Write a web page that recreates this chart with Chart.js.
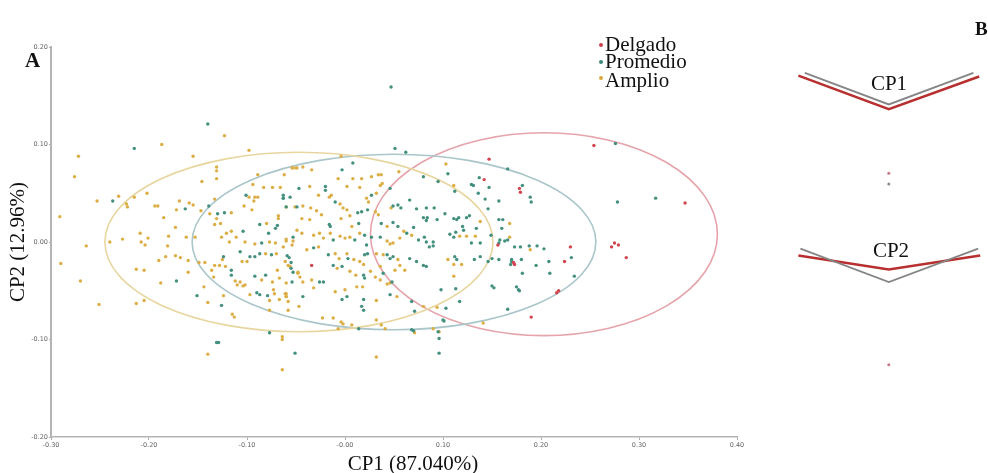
<!DOCTYPE html>
<html>
<head>
<meta charset="utf-8">
<title>CP1 / CP2</title>
<script src="https://cdn.jsdelivr.net/npm/chart.js@4.4.1/dist/chart.umd.min.js"></script>
<style>
  html, body { margin: 0; padding: 0; background: #fff; }
  #wrap { position: relative; width: 988px; height: 473px; overflow: hidden; }
  .panel { position: absolute; top: 0; height: 473px; }
  .serif { position: absolute; font-family: 'Liberation Serif', 'Times New Roman', serif; color: #111; line-height: 1; white-space: nowrap; }
  .tag { font-weight: bold; }
  .dot { position: absolute; width: 4px; height: 4px; border-radius: 50%; }
</style>
</head>
<body>
<div id="wrap">
  <div class="panel" style="left:0;width:780px"><canvas id="pca"></canvas></div>
  <div class="panel" style="left:780px;width:208px"><canvas id="loadings"></canvas></div>

  <div class="serif tag" style="left:25px;top:50px;font-size:21px">A</div>
  <div class="serif tag" style="left:975px;top:19px;font-size:19px">B</div>

  <div class="dot" style="left:599px;top:43px;background:#cf3f4b"></div>
  <div class="serif" style="left:605px;top:34px;font-size:21px">Delgado</div>
  <div class="dot" style="left:599px;top:60px;background:#3b8a7c"></div>
  <div class="serif" style="left:605px;top:51px;font-size:21px">Promedio</div>
  <div class="dot" style="left:599px;top:76px;background:#d9a93a"></div>
  <div class="serif" style="left:605px;top:70px;font-size:21px">Amplio</div>

  <div class="serif" style="left:413px;top:463px;font-size:21px;transform:translate(-50%,-50%)">CP1 (87.040%)</div>

  <div class="serif" style="left:889px;top:83px;font-size:21px;transform:translate(-50%,-50%)">CP1</div>
  <div class="serif" style="left:891px;top:250px;font-size:21px;transform:translate(-50%,-50%)">CP2</div>
</div>

<script>
// ── Axis ticks ───────────────────────────────────────
const xTickValues = [-0.3, -0.2, -0.1, 0, 0.1, 0.2, 0.3, 0.4]
const xTickLabels = ['-0.30', '-0.20', '-0.10', '-0.00', '0.10', '0.20', '0.30', '0.40']
const yTickValues = [-0.2, -0.1, 0, 0.1, 0.2]
const yTickLabels = ['-0.20', '-0.10', '0.00', '0.10', '0.20']

// ── Groups (scores on CP1, CP2) ──────────────────────
const groupNames = ['Delgado', 'Promedio', 'Amplio']

const delgadoPts = [
  [0.147,0.085],[0.142,0.064],[0.178,0.055],[0.179,0.051],[0.156,-0.003],[0.172,-0.021],
  [0.173,-0.023],[0.190,-0.077],[0.254,0.099],[0.347,0.040],[0.230,-0.005],[0.272,-0.005],
  [0.275,-0.001],[0.279,-0.003],[0.287,-0.016],[0.224,-0.020],[0.218,-0.050],[0.216,-0.052],
  [-0.034,-0.024],
]

const promedioPts = [
  [-0.140,0.121],[-0.215,0.096],[-0.237,0.042],[-0.163,0.034],[-0.139,0.037],[-0.130,0.029],
  [-0.123,0.030],[-0.172,-0.040],[-0.151,-0.055],[-0.126,-0.065],[-0.131,-0.103],[-0.129,-0.103],
  [-0.077,-0.093],[-0.051,-0.114],[-0.101,0.048],[-0.087,0.018],[-0.078,0.009],[-0.071,0.014],
  [-0.069,0.017],[-0.060,0.036],[-0.049,0.036],[-0.063,0.045],[-0.056,0.046],[-0.107,-0.010],
  [-0.097,-0.015],[-0.092,-0.015],[-0.087,-0.012],[-0.075,-0.013],[-0.059,-0.014],[-0.057,-0.016],
  [-0.055,-0.021],[-0.055,-0.027],[-0.053,-0.031],[-0.092,-0.035],[-0.081,-0.034],[-0.090,-0.052],
  [-0.087,-0.054],[-0.079,-0.055],[-0.085,-0.001],[-0.104,0.011],[-0.124,-0.015],[-0.116,-0.029],
  [-0.116,-0.034],
  [0.047,0.159],[0.051,0.096],[0.062,0.092],[0.166,0.075],[0.189,0.046],[0.190,0.041],
  [0.137,0.066],[0.129,0.059],[0.131,0.058],[0.136,0.050],[0.147,0.056],[0.105,0.070],
  [0.095,0.062],[0.080,0.067],[0.112,0.052],[0.066,0.043],[0.054,0.038],[0.049,0.037],
  [0.057,0.035],[0.073,0.034],[0.083,0.035],[0.091,0.035],[0.080,0.025],[0.084,0.025],
  [0.083,0.022],[0.094,0.023],[0.102,0.029],[0.111,0.024],[0.114,0.023],[0.116,0.025],
  [0.124,0.025],[0.127,0.027],[0.134,0.014],[0.120,0.016],[0.121,0.012],[0.107,0.008],
  [0.111,0.005],[0.113,0.010],[0.129,-0.001],[0.138,-0.001],[0.149,0.007],[0.158,0.002],
  [0.166,0.002],[0.179,-0.005],[0.188,-0.004],[0.196,-0.004],[0.170,-0.018],[0.180,-0.018],
  [0.195,-0.024],[0.138,-0.015],[0.146,-0.020],[0.132,-0.018],[0.112,-0.015],[0.114,-0.018],
  [0.098,-0.049],[0.113,-0.048],[0.150,-0.045],[0.152,-0.047],[0.175,-0.046],[0.177,-0.049],
  [0.166,-0.069],[0.117,-0.061],[0.103,-0.068],[0.100,-0.080],[0.095,-0.092],[0.096,-0.099],
  [0.096,-0.114],[0.068,-0.061],[0.071,-0.071],[0.070,-0.091],[0.068,-0.090],[0.101,-0.081],
  [-0.063,0.048],[-0.063,0.045],[-0.003,0.074],[0.008,0.081],[0.046,0.055],[-0.047,0.055],
  [-0.020,0.057],[-0.020,0.053],[0.027,0.048],[-0.010,0.041],[0.013,0.030],[0.017,0.031],
  [0.023,0.033],[-0.016,0.018],[-0.015,0.016],[0.014,0.019],[0.037,0.019],[0.049,0.020],
  [0.054,0.016],[0.063,0.009],[0.070,0.015],[0.075,0.002],[0.083,0.000],[0.090,0.000],
  [0.081,0.005],[0.086,-0.005],[0.090,-0.004],[0.027,0.005],[0.036,0.005],[0.020,0.007],
  [0.010,0.002],[0.022,-0.003],[-0.012,0.002],[-0.053,0.005],[-0.032,-0.006],[-0.017,-0.013],
  [0.003,-0.017],[0.020,-0.013],[0.023,-0.012],[0.043,-0.013],[0.046,-0.017],[0.049,-0.015],
  [0.066,-0.017],[0.073,-0.020],[0.080,-0.024],[0.083,-0.025],[0.039,-0.032],[0.048,-0.041],
  [0.019,-0.034],[0.020,-0.037],[-0.012,-0.024],[-0.003,-0.025],[-0.026,-0.041],[-0.022,-0.041],
  [-0.054,-0.041],[-0.043,-0.056],[-0.003,-0.059],[0.002,-0.056],[0.019,-0.059],[0.017,-0.066],
  [0.019,-0.070],[0.046,-0.054],[0.014,-0.089],
  [0.276,0.101],[0.181,0.058],[0.157,0.042],[0.143,0.044],[0.278,0.041],[0.317,0.045],
  [0.146,0.034],[0.157,0.023],[0.161,0.023],[0.160,0.014],[0.163,0.001],[0.157,-0.001],
  [0.173,-0.005],[0.203,-0.007],[0.231,-0.016],[0.208,-0.020],[0.170,-0.020],[0.169,-0.023],
  [0.157,-0.018],[0.150,-0.017],[0.209,-0.032],[0.181,-0.032],[0.234,-0.035],[0.178,-0.050],
]

const amplioPts = [
  [-0.123,0.109],[-0.187,0.100],[-0.272,0.088],[-0.155,0.088],[-0.098,0.094],[-0.276,0.067],
  [-0.146,0.062],[-0.131,0.077],[-0.131,0.073],[-0.131,0.065],[-0.089,0.069],[-0.202,0.050],
  [-0.231,0.047],[-0.253,0.042],[-0.223,0.039],[-0.222,0.036],[-0.215,0.046],[-0.194,0.037],
  [-0.191,0.037],[-0.291,0.026],[-0.185,0.025],[-0.172,0.033],[-0.169,0.042],[-0.159,0.040],
  [-0.155,0.038],[-0.147,0.032],[-0.133,0.044],[-0.138,0.029],[-0.116,0.030],[-0.133,0.018],
  [-0.127,0.019],[-0.131,0.024],[-0.173,0.015],[-0.153,0.005],[-0.162,0.005],[-0.180,0.006],
  [-0.209,0.009],[-0.201,0.004],[-0.208,0.000],[-0.204,-0.003],[-0.227,0.003],[-0.240,0.000],
  [-0.264,-0.004],[-0.290,-0.022],[-0.270,-0.040],[-0.251,-0.064],[-0.213,-0.028],[-0.205,-0.029],
  [-0.213,-0.063],[-0.205,-0.060],[-0.188,-0.042],[-0.190,-0.019],[-0.183,-0.015],[-0.181,-0.004],
  [-0.173,-0.014],[-0.168,-0.016],[-0.160,-0.019],[-0.160,-0.031],[-0.149,-0.021],[-0.143,-0.021],
  [-0.144,-0.046],[-0.140,-0.062],[-0.124,-0.055],[-0.115,-0.074],[-0.113,-0.077],[-0.140,-0.115],
  [-0.064,-0.097],[-0.064,-0.100],
  [-0.098,0.046],[-0.092,0.046],[-0.089,0.046],[-0.093,0.042],[-0.103,0.037],[-0.095,0.033],
  [-0.080,0.019],[-0.068,0.024],[-0.068,0.027],[-0.074,0.056],[-0.066,0.056],[-0.083,0.056],
  [-0.053,0.076],[-0.049,0.076],[-0.062,0.069],[-0.094,0.059],[-0.105,-0.020],[-0.100,-0.020],
  [-0.081,-0.012],[-0.070,-0.012],[-0.048,-0.031],[-0.046,-0.036],[-0.110,-0.044],[-0.102,-0.044],
  [-0.085,-0.039],[-0.074,-0.041],[-0.069,-0.029],[-0.067,-0.037],[-0.060,-0.042],[-0.058,-0.024],
  [-0.077,-0.060],[-0.097,-0.054],[-0.104,-0.045],[-0.072,-0.053],[-0.060,-0.053],[-0.058,-0.061],
  [-0.067,-0.059],[-0.060,-0.056],[-0.077,-0.070],[-0.058,-0.070],[-0.047,-0.066],[-0.073,-0.049],
  [-0.102,0.000],[-0.111,0.005],[-0.116,0.011],[-0.121,0.009],[-0.126,0.005],[-0.118,0.000],
  [-0.092,-0.002],[-0.077,0.000],[-0.071,-0.001],[-0.060,0.001],[-0.053,0.001],[-0.049,0.012],
  [-0.125,-0.018],[-0.133,-0.024],[-0.128,-0.024],[-0.122,-0.025],[-0.112,-0.040],[-0.107,-0.041],
  [-0.136,-0.029],[-0.134,-0.036],
  [0.103,0.080],[0.111,0.058],[0.138,0.021],[0.117,0.006],[0.124,0.006],[0.133,0.006],
  [0.168,0.005],[0.189,-0.008],[0.105,-0.018],[0.111,-0.023],[0.119,-0.023],[0.111,-0.035],
  [0.094,-0.067],[0.090,-0.089],[0.096,-0.092],[0.080,-0.066],[0.071,-0.093],[0.168,0.019],
  [0.141,-0.083],
  [-0.054,0.076],[-0.050,0.076],[-0.043,0.077],[-0.034,0.074],[-0.004,0.088],[-0.007,0.065],
  [0.008,0.065],[0.017,0.065],[0.027,0.067],[0.034,0.069],[0.037,0.069],[0.038,0.060],
  [0.036,0.058],[0.055,0.072],[-0.036,0.057],[-0.027,0.048],[-0.014,0.048],[-0.016,0.046],
  [0.002,0.057],[0.015,0.056],[0.022,0.045],[0.024,0.041],[0.032,0.050],[-0.005,0.039],
  [-0.060,0.036],[-0.051,0.036],[-0.043,0.037],[-0.035,0.035],[-0.029,0.032],[-0.002,0.035],
  [0.002,0.033],[0.031,0.031],[0.034,0.028],[0.047,0.035],[-0.044,0.024],[-0.036,0.023],
  [-0.024,0.028],[-0.004,0.024],[0.005,0.027],[0.007,0.016],[0.043,0.016],[0.060,0.011],
  [0.068,0.007],[0.056,0.004],[0.043,0.001],[0.046,-0.002],[0.049,-0.001],[0.015,0.009],
  [-0.005,0.006],[0.000,0.004],[0.005,0.005],[-0.015,0.009],[-0.032,0.007],[-0.026,0.009],
  [-0.022,0.004],[-0.044,0.009],[-0.060,0.003],[-0.063,-0.005],[-0.054,-0.003],[-0.039,-0.008],
  [-0.027,-0.005],[-0.010,-0.012],[-0.006,-0.017],[0.002,-0.012],[0.009,-0.018],[0.015,-0.020],
  [0.019,-0.023],[0.032,-0.012],[0.039,-0.013],[0.054,-0.018],[0.056,-0.024],[0.061,-0.029],
  [0.051,-0.029],[0.036,-0.025],[0.026,-0.030],[0.031,-0.036],[0.036,-0.039],[0.043,-0.043],
  [0.046,-0.042],[0.005,-0.030],[0.011,-0.034],[-0.008,-0.027],[-0.034,-0.039],[-0.032,-0.047],
  [-0.048,-0.032],[-0.056,-0.025],[-0.061,-0.020],[-0.043,-0.041],[-0.061,-0.053],[-0.060,-0.056],
  [-0.010,-0.051],[0.000,-0.049],[0.012,-0.046],[0.018,-0.046],[0.032,-0.060],[0.053,-0.056],
  [-0.023,-0.078],[-0.012,-0.078],[-0.004,-0.082],[-0.007,-0.089],[0.007,-0.085],[0.032,-0.080],
  [0.037,-0.085],[0.041,-0.089],[-0.064,-0.131],[0.032,-0.118],[-0.002,-0.084],
]

// ── Confidence ellipses (centre and semi-axes, per group) ──
const ellipseCx = [0.203, 0.050, -0.047]
const ellipseCy = [0.008, 0.000, 0.000]
const ellipseRx = [0.177, 0.206, 0.198]
const ellipseRy = [0.104, 0.090, 0.092]

// ── Panel B loadings (relative units) ────────────────
const cp1GreyX = [0.104, 0.524, 0.947]
const cp1GreyY = [85.2, 78.4, 85.2]
const cp1RedX  = [0.072, 0.524, 0.976]
const cp1RedY  = [84.6, 77.4, 84.4]
const cp2GreyX = [0.082, 0.524, 0.971]
const cp2GreyY = [47.4, 40.2, 47.4]
const cp2RedX  = [0.072, 0.524, 0.981]
const cp2RedY  = [45.9, 42.9, 45.9]
const markX    = [0.524, 0.524, 0.524]
const markY    = [63.6, 61.3, 22.4]

// ── Styles ───────────────────────────────────────────
const pointColors   = ['#d0454f', '#43907f', '#dcae45']
const ellipseColors = ['#e6a3ab', '#aac6ca', '#e8d6a0']
const markColors    = ['#c97886', '#8a8a8a', '#c97886']

const toXY = (xs, ys) => xs.map((x, i) => ({ x, y: ys[i] }))
const pairs = pts => pts.map(([x, y]) => ({ x, y }))

const ellipsePlugin = {
  id: 'ellipses',
  beforeDatasetsDraw(chart) {
    const { ctx, scales: { x, y } } = chart
    ctx.save()
    ctx.lineWidth = 1.6
    ellipseCx.forEach((cxv, i) => {
      const cx = x.getPixelForValue(cxv)
      const cy = y.getPixelForValue(ellipseCy[i])
      const rx = Math.abs(x.getPixelForValue(cxv + ellipseRx[i]) - cx)
      const ry = Math.abs(y.getPixelForValue(ellipseCy[i] + ellipseRy[i]) - cy)
      ctx.strokeStyle = ellipseColors[i]
      ctx.beginPath()
      ctx.ellipse(cx, cy, rx, ry, 0, 0, Math.PI * 2)
      ctx.stroke()
    })
    ctx.restore()
  },
}

const tickFont = { family: 'DejaVu Sans', size: 6.5 }
const titleFont = { family: "'Liberation Serif', 'Times New Roman', serif", size: 21, lineHeight: 1 }

new Chart(document.getElementById('pca'), {
  type: 'scatter',
  data: {
    datasets: [delgadoPts, promedioPts, amplioPts].map((pts, i) => ({
      label: groupNames[i],
      data: pairs(pts),
      backgroundColor: pointColors[i],
      borderWidth: 0,
      pointRadius: 1.7,
    })),
  },
  options: {
    animation: false,
    responsive: true,
    maintainAspectRatio: false,
    layout: { padding: { left: 0, right: 43, top: 47, bottom: 0 } },
    plugins: { legend: { display: false }, tooltip: { enabled: false } },
    scales: {
      x: {
        type: 'linear', min: -0.3, max: 0.4,
        afterBuildTicks: s => { s.ticks = xTickValues.map(v => ({ value: v })) },
        afterFit: s => { s.height = 36 },
        ticks: { callback: (v, i) => xTickLabels[i], font: tickFont, color: '#666', padding: 1, maxRotation: 0, autoSkip: false },
        grid: { drawOnChartArea: false, drawTicks: true, tickLength: 3, color: '#aaa' },
        border: { display: true, color: '#b4b4b4', width: 1.5 },
      },
      y: {
        type: 'linear', min: -0.2, max: 0.2,
        afterBuildTicks: s => { s.ticks = yTickValues.map(v => ({ value: v })) },
        afterFit: s => { s.width = 51 },
        ticks: { callback: (v, i) => yTickLabels[i], font: tickFont, color: '#666', padding: 1, autoSkip: false },
        grid: { drawOnChartArea: false, drawTicks: true, tickLength: 2, color: '#aaa' },
        border: { display: true, color: '#b4b4b4', width: 2 },
        title: { display: true, text: 'CP2 (12.96%)', font: titleFont, color: '#111', padding: { top: 8, bottom: 0 } },
      },
    },
  },
  plugins: [ellipsePlugin],
})

// ── Panel B ──────────────────────────────────────────
new Chart(document.getElementById('loadings'), {
  type: 'line',
  data: {
    datasets: [
      { data: toXY(cp1GreyX, cp1GreyY), borderColor: '#858585', borderWidth: 1.8 },
      { data: toXY(cp1RedX, cp1RedY),   borderColor: '#b7302f', borderWidth: 2.5 },
      { data: toXY(cp2GreyX, cp2GreyY), borderColor: '#858585', borderWidth: 1.8 },
      { data: toXY(cp2RedX, cp2RedY),   borderColor: '#b7302f', borderWidth: 2.5 },
      { type: 'scatter', data: toXY(markX, markY), backgroundColor: markColors, borderWidth: 0, pointRadius: 1.5 },
    ],
  },
  options: {
    animation: false,
    responsive: true,
    maintainAspectRatio: false,
    layout: { padding: 0 },
    elements: { point: { radius: 0 }, line: { tension: 0 } },
    plugins: { legend: { display: false }, tooltip: { enabled: false } },
    scales: {
      x: { type: 'linear', display: false, min: 0, max: 1 },
      y: { type: 'linear', display: false, min: 0, max: 100 },
    },
  },
})
</script>
</body>
</html>
